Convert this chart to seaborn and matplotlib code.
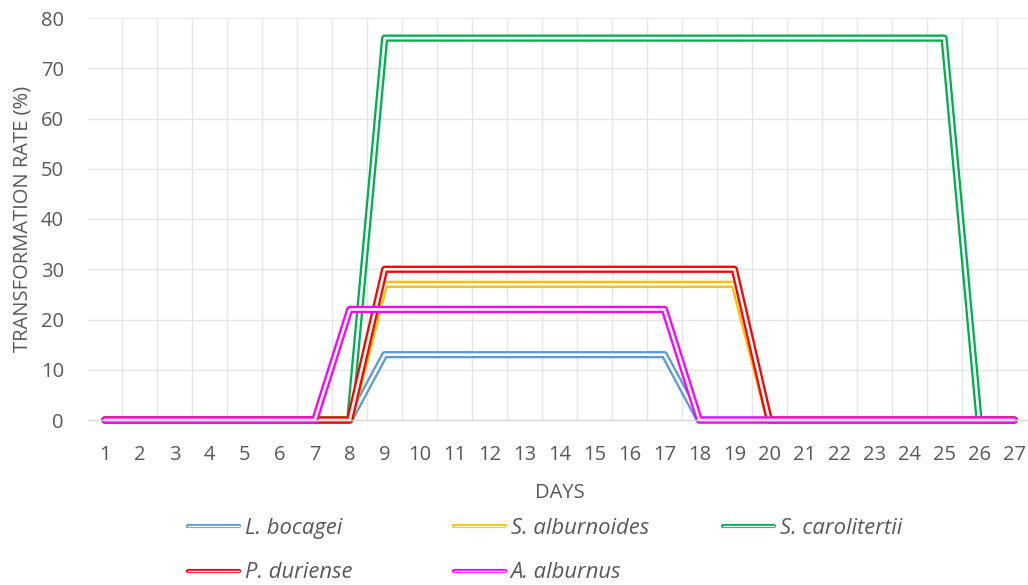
import numpy as np
import matplotlib
matplotlib.use('Agg')
import matplotlib.pyplot as plt
import matplotlib.patheffects as pe
import seaborn as sns

# values (centre of each double line)
days = list(range(1, 28))
l_bocagei = [0] * 8 + [13] * 9 + [0] * 10
s_alburnoides = [0] * 8 + [27] * 11 + [0] * 8
s_carolitertii = [0] * 8 + [76] * 17 + [0] * 2
p_duriense = [0] * 8 + [30] * 11 + [0] * 8
a_alburnus = [0] * 7 + [22] * 10 + [0] * 10

series_names = ['L. bocagei', 'S. alburnoides', 'S. carolitertii', 'P. duriense', 'A. alburnus']
series_values = [l_bocagei, s_alburnoides, s_carolitertii, p_duriense, a_alburnus]
colors = ['#5B9BD5', '#FFC000', '#00B050', '#FF0000', '#FF00FF']

sns.set_style('white')
plt.rcParams['font.family'] = ['Open Sans', 'DejaVu Sans']
grey = '#595959'

fig = plt.figure(figsize=(10.28, 5.85), dpi=100)
ax = fig.add_axes([87.5 / 1028, 165 / 585, 944 / 1028, 402 / 585])

for name, vals, c in zip(series_names, series_values, colors):
    sns.lineplot(x=days, y=vals, color=c, label=name, ax=ax, linewidth=5.2)
ax.get_legend().remove()

# double line look
for line, c in zip(ax.lines, colors):
    line.set_clip_on(False)
    line.set_path_effects([pe.Stroke(linewidth=5.2, foreground=c),
                           pe.Stroke(linewidth=1.9, foreground='white')])

ax.set_xlim(0.5, 27.5)
ax.set_ylim(0, 80)
ax.set_xticks(days)
ax.set_xticks(np.arange(1.5, 27, 1), minor=True)
ax.set_yticks(range(0, 81, 10))
ax.grid(False)
ax.grid(True, axis='x', which='minor', color='#E6E6E6', linewidth=1)
ax.grid(True, axis='y', which='major', color='#E6E6E6', linewidth=1)
ax.set_axisbelow(True)
ax.tick_params(axis='both', which='both', length=0, labelsize=14.5, labelcolor=grey)
ax.tick_params(axis='y', pad=17)
ax.tick_params(axis='x', pad=18)

for s in ['left', 'right', 'top']:
    ax.spines[s].set_visible(False)
ax.spines['bottom'].set_color('#D9D9D9')
ax.spines['bottom'].set_linewidth(1)

ax.set_xlabel('DAYS', fontsize=14.5, color=grey, labelpad=13)
ax.set_ylabel('TRANSFORMATION RATE (%)', fontsize=14.5, color=grey, labelpad=6)

# legend: Excel lays it out in equal-width columns, so one legend per column
handles, labels = ax.get_legend_handles_labels()
columns = [([0, 3], 179), ([1, 4], 445), ([2], 714)]
for idx, x0 in columns:
    leg = fig.legend([handles[i] for i in idx], [labels[i] for i in idx],
                     loc='upper left', bbox_to_anchor=(x0 / 1028, 76 / 585),
                     frameon=False, borderaxespad=0,
                     prop={'size': 15.8, 'style': 'italic'}, labelcolor=grey,
                     handlelength=2.32, handletextpad=0.27, labelspacing=1.08)
    for h in leg.get_lines():
        c = h.get_color()
        h.set_path_effects([pe.Stroke(linewidth=3.0, foreground=c),
                            pe.Stroke(linewidth=1.0, foreground='white')])

fig.savefig('out.png', dpi=100)
